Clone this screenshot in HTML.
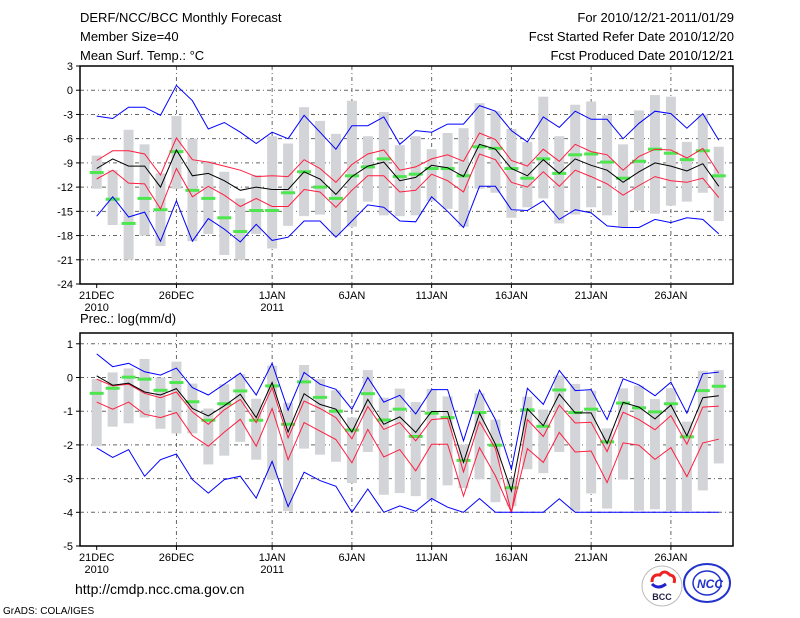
<!DOCTYPE html>
<html><head><meta charset="utf-8"><style>
body{margin:0;background:#fff;width:800px;height:618px;overflow:hidden}
svg{display:block;font-family:"Liberation Sans",sans-serif}
</style></head><body>
<svg id="c" width="800" height="618" viewBox="0 0 800 618">
<g font-size="13" fill="#000">
<text x="80" y="22">DERF/NCC/BCC Monthly Forecast</text>
<text x="80" y="41">Member Size=40</text>
<text x="80" y="60">Mean Surf. Temp.: °C</text>
<text x="734" y="22" text-anchor="end">For 2010/12/21-2011/01/29</text>
<text x="734" y="41" text-anchor="end">Fcst Started Refer Date 2010/12/20</text>
<text x="734" y="60" text-anchor="end">Fcst Produced Date 2010/12/21</text>
<text x="80" y="323">Prec.: log(mm/d)</text>
</g>
<text x="75" y="594" font-size="14">http://cmdp.ncc.cma.gov.cn</text>
<text x="3" y="614" font-size="10">GrADS: COLA/IGES</text>
<g>
<circle cx="662" cy="586" r="20" fill="#fff" stroke="#bbb"/>
<path d="M652 582 q0-8 8-7 q4-6 10 0 q6 1 4 8" fill="none" stroke="#e22" stroke-width="3"/>
<path d="M652 584 q6 6 14 0" fill="none" stroke="#22c" stroke-width="3"/>
<text x="662" y="600" font-size="9" font-weight="bold" fill="#224" text-anchor="middle">BCC</text>
</g>
<g>
<ellipse cx="707" cy="583" rx="23" ry="19" fill="#fff" stroke="#23c" stroke-width="2"/>
<ellipse cx="707" cy="583" rx="14" ry="12" fill="none" stroke="#23c" stroke-width="1.5"/>
<text x="710" y="588" font-size="12" font-style="italic" font-weight="bold" fill="#23c" text-anchor="middle">NCC</text>
</g>
<g id="p1"></g><g id="p2"></g>
</svg>
<script>
// top panel: temperature
const t_bu=[-3.2,-3.5,-2.1,-2.1,-3.1,0.6,-1.3,-4.8,-4.0,-5.2,-6.6,-5.2,-6.0,-3.1,-5.2,-7.3,-4.4,-4.4,-3.3,-6.7,-5.0,-5.2,-4.2,-4.2,-1.9,-2.6,-5.0,-6.4,-3.3,-4.6,-2.6,-3.6,-3.6,-6.0,-4.1,-2.6,-2.9,-4.7,-2.9,-6.2];
const t_ru=[-8.7,-7.5,-7.5,-7.9,-10.5,-5.9,-8.6,-8.9,-9.4,-9.9,-10.7,-10.6,-10.7,-8.6,-9.7,-11.4,-9.2,-7.9,-7.4,-9.9,-9.5,-8.5,-8.0,-8.8,-5.3,-6.1,-8.7,-9.4,-7.3,-8.8,-6.7,-7.6,-8.0,-9.9,-8.2,-7.3,-7.4,-8.4,-7.2,-10.3];
const t_mean=[-9.7,-8.5,-9.4,-9.4,-12.0,-7.4,-10.6,-10.3,-11.2,-12.4,-12.0,-12.3,-12.3,-10.1,-11.0,-12.9,-10.7,-9.4,-8.9,-11.2,-10.8,-9.3,-9.6,-10.7,-6.7,-7.3,-9.7,-10.6,-8.6,-10.3,-8.5,-9.3,-9.9,-11.4,-10.1,-9.0,-9.4,-10.0,-9.1,-11.9];
const t_rl=[-11.0,-9.9,-11.5,-11.6,-14.7,-9.7,-13.2,-11.9,-13.0,-14.4,-13.4,-14.4,-14.4,-12.3,-12.6,-14.5,-12.4,-10.6,-10.6,-12.6,-12.4,-10.4,-11.2,-12.6,-7.9,-8.6,-11.4,-12.0,-10.1,-11.9,-9.9,-10.7,-11.6,-13.0,-11.8,-10.7,-11.2,-11.4,-10.9,-13.3];
const t_bl=[-15.6,-13.2,-15.7,-15.1,-18.7,-13.7,-18.7,-15.9,-17.2,-18.8,-16.6,-18.6,-18.2,-16.2,-16.2,-18.2,-16.2,-14.2,-14.5,-16.2,-16.3,-13.2,-15.0,-17.0,-11.9,-11.9,-14.8,-14.9,-13.7,-16.0,-14.8,-15.2,-16.8,-17.0,-17.0,-16.0,-16.4,-15.8,-16.0,-17.8];
const t_obs=[-10.2,-13.5,-16.5,-13.4,-14.8,-7.6,-12.4,-13.4,-15.8,-17.5,-14.9,-14.9,-12.7,-10.1,-12.0,-13.4,-10.6,-9.5,-8.5,-10.7,-10.4,-9.7,-9.7,-10.6,-7.0,-7.2,-9.7,-10.9,-8.5,-10.3,-8.0,-7.9,-8.9,-10.9,-8.8,-7.3,-7.8,-8.6,-7.5,-10.6];
const t_max=[-8.1,-9.9,-4.9,-6.7,-10.3,-3.2,-6.0,-8.8,-10.1,-13.4,-10.5,-5.7,-6.6,-2.1,-3.8,-5.4,-1.3,-5.7,-2.7,-6.8,-5.7,-7.3,-5.3,-4.7,-1.6,-2.6,-4.8,-6.4,-0.8,-5.7,-1.8,-1.4,-3.1,-6.7,-2.5,-0.6,-0.8,-6.4,-3.0,-7.0];
const t_min=[-12.2,-16.7,-21.0,-18.0,-19.3,-12.2,-18.7,-17.8,-20.4,-21.0,-17.8,-19.6,-16.8,-15.6,-15.4,-18.0,-16.9,-13.8,-15.5,-15.6,-15.5,-13.7,-14.7,-16.9,-12.2,-12.7,-15.8,-14.5,-13.4,-16.5,-15.4,-14.5,-15.5,-17.0,-14.9,-15.3,-14.3,-13.8,-12.7,-16.2];
const t_ticks=[3,0,-3,-6,-9,-12,-15,-18,-21,-24];
// bottom panel: precipitation log(mm/d)
const p_bu=[0.70,0.32,0.42,0.17,0.07,0.28,-0.30,-0.52,-0.20,0.13,-0.52,0.42,-0.97,0.15,-0.20,-0.35,-0.94,0,-0.73,-0.53,-1.08,-0.36,-0.36,-1.88,-0.37,-1.25,-2.72,-0.32,-0.80,0.21,-0.39,-0.36,-1.25,-0.04,-0.22,-0.54,-0.14,-1.06,0.11,0.16];
const p_ru=[-0.05,-0.25,-0.20,-0.47,-0.60,-0.43,-1.02,-1.39,-0.96,-0.65,-1.34,-0.30,-1.79,-0.70,-0.92,-1.19,-1.82,-0.86,-1.54,-1.34,-1.88,-1.25,-1.21,-2.80,-1.31,-2.11,-4.0,-1.25,-1.75,-0.82,-1.35,-1.33,-2.20,-1.03,-1.25,-1.55,-1.13,-1.98,-0.88,-0.85];
const p_mean=[0.05,-0.23,-0.17,-0.43,-0.52,-0.33,-0.92,-1.14,-0.84,-0.50,-1.19,-0.15,-1.62,-0.48,-0.80,-0.94,-1.62,-0.65,-1.39,-1.17,-1.63,-1.01,-1.01,-2.52,-1.06,-1.98,-3.37,-0.93,-1.43,-0.49,-1.05,-1.05,-1.96,-0.74,-0.88,-1.23,-0.82,-1.73,-0.60,-0.54];
const p_rl=[-0.73,-0.94,-0.73,-1.09,-1.19,-1.04,-1.72,-2.04,-1.62,-1.24,-2.04,-0.92,-2.44,-1.34,-1.59,-1.84,-2.53,-1.54,-2.36,-2.14,-2.77,-1.98,-1.98,-3.52,-2.08,-2.92,-4.0,-2.11,-2.52,-1.63,-2.21,-2.18,-3.12,-1.94,-2.01,-2.43,-2.08,-2.94,-1.94,-1.83];
const p_bl=[-2.09,-2.37,-2.14,-2.93,-2.44,-2.27,-3.03,-3.43,-3.03,-2.93,-3.58,-2.49,-3.83,-2.81,-3.06,-3.23,-4.0,-3.31,-4.0,-3.81,-3.97,-3.59,-3.85,-4.0,-3.59,-4.0,-4.0,-4.0,-4.0,-3.6,-4.0,-4.0,-4.0,-4.0,-4.0,-4.0,-4.0,-4.0,-4.0,-4.0];
const p_obs=[-0.47,-0.32,0.01,-0.05,-0.38,-0.15,-0.72,-1.27,-0.78,-0.40,-1.27,-0.25,-1.39,-0.13,-0.59,-1.0,-1.56,-0.48,-1.26,-0.94,-1.75,-1.06,-1.19,-2.46,-1.04,-2.01,-3.27,-0.96,-1.45,-0.37,-1.04,-0.94,-1.91,-0.76,-0.90,-1.02,-0.78,-1.76,-0.39,-0.26];
const p_max=[-0.05,0.15,0.27,0.55,0,0.47,-0.18,-0.92,-0.2,0.1,-0.63,0.35,-0.75,0.37,-0.05,-0.38,-1.19,0.22,-0.6,-0.33,-0.73,-0.34,-0.56,-1.99,-0.47,-1.25,-3.02,-0.57,-0.95,0.06,-0.19,-0.39,-1.51,-0.32,-0.24,-0.64,-0.32,-1.31,0.2,0.22];
const p_min=[-2.04,-1.46,-1.36,-1.19,-1.52,-1.66,-1.66,-2.58,-2.32,-1.91,-2.44,-3.03,-3.96,-2.11,-2.29,-2.5,-3.13,-2.21,-3.48,-3.43,-3.52,-3.62,-3.2,-3.28,-3.02,-3.7,-3.82,-2.72,-2.84,-2.21,-3.95,-3.44,-3.89,-3.03,-3.95,-3.91,-3.96,-3.96,-3.35,-2.55];
const p_ticks=[1,0,-1,-2,-3,-4,-5];
const dayLabels=[[0,'21DEC','2010'],[5,'26DEC',''],[11,'1JAN','2011'],[16,'6JAN',''],[21,'11JAN',''],[26,'16JAN',''],[31,'21JAN',''],[36,'26JAN','']];

const NS='http://www.w3.org/2000/svg';
function mk(p,tag,at){const e=document.createElementNS(NS,tag);for(const k in at)e.setAttribute(k,at[k]);p.appendChild(e);return e;}
const X0=80,X1=733;
function xs(d){return 96.7+15.95*d;}
function panel(g,top,bot,vmax,vmin,ticks,bu,ru,mean,rl,bl,obs,mx,mn,prefix){
  const ys=v=>top+(vmax-v)/(vmax-vmin)*(bot-top);
  mk(g,'rect',{x:X0,y:top,width:X1-X0,height:bot-top,fill:'#fff'});
  for(const t of ticks){const y=ys(t);
    if(t!==vmin&&t!==vmax){const gl=mk(g,'line',{x1:X0,x2:X1,y1:y,y2:y,stroke:'#666','stroke-dasharray':'4,3,1,3'});
    
    }
    const tk=mk(g,'line',{x1:X0-4,x2:X0,y1:y,y2:y,stroke:'#000'});
    
    
    const tl=mk(g,'text',{x:X0-7,y:y+4,'font-size':11,'text-anchor':'end'});tl.textContent=t;
    
    }
  for(const [d,l1,l2] of dayLabels){const x=xs(d);
    if(d>0){const vg=mk(g,'line',{x1:x,x2:x,y1:top,y2:bot,stroke:'#666','stroke-dasharray':'4,3,1,3'});
    
    }
    const tk=mk(g,'line',{x1:x,x2:x,y1:bot,y2:bot+4,stroke:'#000'});
    
    
    const t=mk(g,'text',{x:x,y:bot+15,'font-size':11,'text-anchor':'middle'});t.textContent=l1;
    
    
    if(l2){const t2=mk(g,'text',{x:x,y:bot+27,'font-size':11,'text-anchor':'middle'});t2.textContent=l2;
    
    }}
  for(let i=0;i<mx.length;i++){
    const b=mk(g,'rect',{x:xs(i)-5,y:ys(mx[i]),width:10,height:ys(mn[i])-ys(mx[i]),fill:'#d3d4d8'});
    
    }
  for(let i=0;i<obs.length;i++){
    const m=mk(g,'rect',{x:xs(i)-7,y:ys(obs[i])-1.5,width:14,height:3,fill:'#4ee64e'});
    
    }
  const lines=[[bu,'#0000ff','upper-bound-line'],[ru,'#ff1e40','upper-quartile-line'],[mean,'#000','ensemble-mean-line'],[rl,'#ff1e40','lower-quartile-line'],[bl,'#0000ff','lower-bound-line']];
  for(const [arr,c,n] of lines){
    const pl=mk(g,'polyline',{points:arr.map((v,i)=>xs(i).toFixed(1)+','+ys(v).toFixed(1)).join(' '),fill:'none',stroke:c,'stroke-width':1});
    
    }
  const fr=mk(g,'rect',{x:X0,y:top,width:X1-X0,height:bot-top,fill:'none',stroke:'#000','stroke-width':1.5});
  
  
}
panel(document.getElementById('p1'),66,284,3,-24,t_ticks,t_bu,t_ru,t_mean,t_rl,t_bl,t_obs,t_max,t_min,'temp');
panel(document.getElementById('p2'),333,546,1.32,-5,p_ticks,p_bu,p_ru,p_mean,p_rl,p_bl,p_obs,p_max,p_min,'prec');
</script>
</body></html>
